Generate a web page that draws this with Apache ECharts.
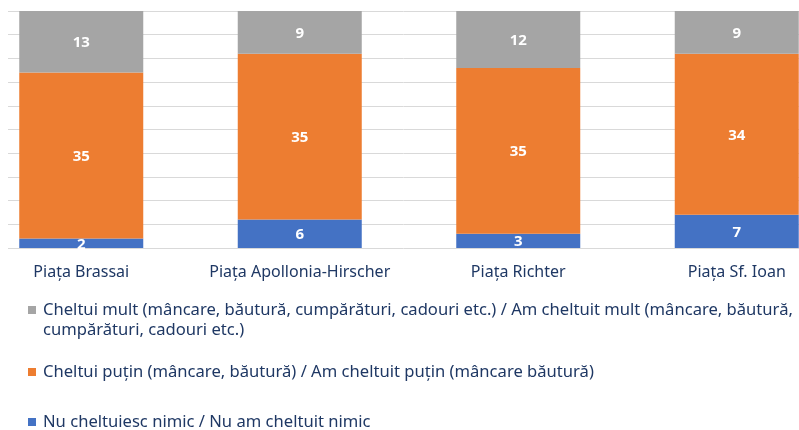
<!DOCTYPE html>
<html>
<head>
<meta charset="utf-8">
<script src="https://cdn.jsdelivr.net/npm/echarts@6/dist/echarts.min.js"></script>
<style>
    html, body { margin: 0; padding: 0; background: #fff; }
    #chart { width: 799px; height: 430px; }
</style>
</head>
<body>
<div id="chart"></div>
<script>
"use strict";
const categories = ["Piața Brassai", "Piața Apollonia-Hirscher", "Piața Richter", "Piața Sf. Ioan"];
const nimic = [2, 6, 3, 7];
const putin = [35, 35, 35, 34];
const mult = [13, 9, 12, 9];
const names = {
    mult: "Cheltui mult (mâncare, băutură, cumpărături, cadouri etc.) / Am cheltuit mult (mâncare, băutură, cumpărături, cadouri etc.)",
    putin: "Cheltui puțin (mâncare, băutură) / Am cheltuit puțin (mâncare băutură)",
    nimic: "Nu cheltuiesc nimic / Nu am cheltuit nimic",
};
const font = "Noto Sans";
const navy = "#1f3864";

// wrap the long legend entry like the original; the empty first line keeps the icon on line one
const wrapLast = (s) => {
    const i = s.lastIndexOf(" cumpărături");
    return i < 0 ? s : "\n" + s.substring(0, i) + "\n" + s.substring(i + 1);
};

const barLabel = {
    show: true,
    color: "#fff",
    fontFamily: font,
    fontWeight: "bold",
    fontSize: 15,
    offset: [0, 1],
};
const legendBase = (name, top) => ({
    data: [name],
    left: 28,
    top,
    orient: "vertical",
    icon: "rect",
    itemWidth: 8,
    itemHeight: 8,
    padding: 0,
    selectedMode: false,
    textStyle: { color: navy, fontFamily: font, fontSize: 16.6, lineHeight: 20, padding: [0, 0, 0, 2] },
});

const chart = echarts.init(document.getElementById("chart"), null, { renderer: "canvas" });
chart.setOption({
    animation: false,
    color: ["#4472c4", "#ed7d31", "#a5a5a5"],
    grid: [
        { left: -28, width: 874, top: 11, height: 237, outerBoundsMode: "none", containLabel: false },
        { left: 8, right: 0, top: 11, height: 237, outerBoundsMode: "none" },
    ],
    xAxis: [
        {
            type: "category",
            data: categories,
            gridIndex: 0,
            axisLine: { show: false },
            axisTick: { show: false },
            axisLabel: { color: navy, fontFamily: font, fontSize: 16, margin: 16, interval: 0 },
        },
        { type: "value", gridIndex: 1, min: 0, max: 1, show: false },
    ],
    yAxis: [
        { type: "value", gridIndex: 0, min: 0, max: 50, interval: 5, show: false },
        {
            type: "value",
            gridIndex: 1,
            min: 0,
            max: 50,
            interval: 5,
            axisLine: { show: false },
            axisTick: { show: false },
            axisLabel: { show: false },
            splitLine: { lineStyle: { color: "#d9d9d9", width: 1 } },
        },
    ],
    legend: [
        Object.assign(legendBase(names.mult, 280), { formatter: (n) => wrapLast(n) }),
        legendBase(names.putin, 362),
        legendBase(names.nimic, 412),
    ],
    series: [
        { name: names.nimic, type: "bar", stack: "s", barWidth: 124, data: nimic, label: barLabel },
        { name: names.putin, type: "bar", stack: "s", barWidth: 124, data: putin, label: barLabel },
        { name: names.mult, type: "bar", stack: "s", barWidth: 124, data: mult, label: barLabel },
    ],
});
</script>
</body>
</html>
